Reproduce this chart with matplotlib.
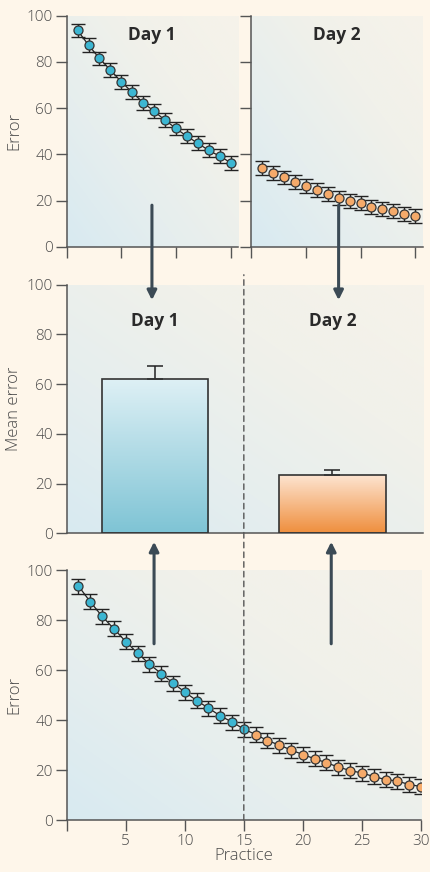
"""Error across practice: day 1 vs day 2 with mean error bars."""
import matplotlib
matplotlib.use("Agg")
import matplotlib.pyplot as plt
import numpy as np
from matplotlib.colors import LinearSegmentedColormap
from matplotlib.patches import ConnectionPatch

plt.rcParams["font.family"] = ["Open Sans", "DejaVu Sans"]

# ---- data -------------------------------------------------------------
trials = list(range(1, 31))
error = [93.6, 87.3, 81.5, 76.5, 71.4, 66.8, 62.4, 58.6, 54.8, 51.2,
         47.8, 44.8, 41.7, 39.2, 36.4, 34.2, 31.8, 30.0, 28.0, 26.2,
         24.5, 22.9, 21.2, 19.8, 18.8, 17.4, 16.2, 15.6, 14.2, 13.4]
error_sd = [3.0] * 30
day_labels = ["Day 1", "Day 2"]
mean_error = [62.2, 23.5]
mean_error_up = [5.1, 1.8]

BG = "#fef6ea"
INK = "#4a4a4a"
ARROW = "#3b4a55"
DAY1_C = "#3cb6d2"
DAY2_C = "#f5aa6a"

bg_cmap = LinearSegmentedColormap.from_list(
    "bg", ["#d8eaf1", "#e6eeee", "#f1f1ea", "#f6f3ea"])
bar_cmaps = [
    LinearSegmentedColormap.from_list("d1", ["#7fc4d5", "#def0f5"]),
    LinearSegmentedColormap.from_list("d2", ["#ef8f3e", "#fde5d2"]),
]

fig = plt.figure(figsize=(4.3, 8.72), dpi=100, facecolor=BG)

ax_d1 = fig.add_axes([0.155, 0.717, 0.398, 0.265])
ax_d2 = fig.add_axes([0.5845, 0.717, 0.3986, 0.265])
ax_mid = fig.add_axes([0.155, 0.3884, 0.828, 0.2851])
ax_all = fig.add_axes([0.155, 0.0596, 0.824, 0.2867])

grad = np.add.outer(np.linspace(0, 1, 200), np.linspace(0, 1, 200)) / 2


def style(ax, xlim, xticks, xlabels=None, ylabels=True):
    ax.set_facecolor("none")
    ax.imshow(grad, cmap=bg_cmap, extent=(0, 1, 0, 1), origin="lower",
              transform=ax.transAxes, aspect="auto", zorder=0,
              interpolation="bicubic")
    ax.set_xlim(*xlim)
    ax.set_ylim(0, 100)
    for s in ("top", "right"):
        ax.spines[s].set_visible(False)
    for s in ("left", "bottom"):
        ax.spines[s].set_color("#555555")
        ax.spines[s].set_linewidth(1.1)
    ax.set_yticks([0, 20, 40, 60, 80, 100])
    if not ylabels:
        ax.set_yticklabels([])
    ax.set_xticks(xticks)
    ax.set_xticklabels(xlabels if xlabels else [])
    ax.tick_params(direction="out", length=8, width=1.0, color="#555555",
                   labelsize=11, labelcolor=INK, pad=2)
    for t in ax.get_xticklabels() + ax.get_yticklabels():
        t.set_fontweight("light")


def curve(ax, x, y, yerr, color):
    ax.errorbar(x, y, yerr=yerr, fmt="none", ecolor="#222222", elinewidth=1.0,
                capsize=5, capthick=1.0, zorder=3)
    ax.plot(x, y, "o", color=color, markersize=6.5, markeredgecolor="#333333",
            markeredgewidth=0.9, zorder=4)


def day_text(ax, x, y, s, transform=None):
    ax.text(x, y, s, transform=transform or ax.transData, ha="center",
            va="center", fontsize=12.5, fontweight="bold", color="#2a2a2a")


# ---- top: separate days ------------------------------------------------
style(ax_d1, (0, 15.65), [0, 5, 10, 15])
ax_d1.plot(trials[:15], error[:15], color="#222222", lw=0.9, zorder=2)
curve(ax_d1, trials[:15], error[:15], error_sd[:15], DAY1_C)
ax_d1.set_ylabel("Error", fontsize=12, color=INK, labelpad=3, fontweight="light")
day_text(ax_d1, 0.5, 0.915, day_labels[0], ax_d1.transAxes)

style(ax_d2, (15, 30.7), [15, 20, 25, 30], ylabels=False)
curve(ax_d2, trials[15:], error[15:], error_sd[15:], DAY2_C)
day_text(ax_d2, 0.5, 0.915, day_labels[1], ax_d2.transAxes)

# ---- middle: mean error ------------------------------------------------
style(ax_mid, (0, 30.14), [])
ax_mid.tick_params(axis="x", length=0)
bar_x = [7.5, 22.5]
bars = ax_mid.bar(bar_x, mean_error, width=9, color="none",
                  edgecolor="#333333", linewidth=1.2, zorder=3)
for b, cm in zip(bars, bar_cmaps):
    x0, w, h = b.get_x(), b.get_width(), b.get_height()
    im = ax_mid.imshow(np.linspace(0, 1, 100).reshape(-1, 1), cmap=cm,
                       extent=(x0, x0 + w, 0, h), origin="lower",
                       aspect="auto", zorder=2)
    im.set_clip_path(b)
ax_mid.errorbar(bar_x, mean_error, yerr=[[0, 0], mean_error_up], fmt="none",
                ecolor="#222222", elinewidth=1.1, capsize=6, capthick=1.1, zorder=2)
for x, lab in zip(bar_x, day_labels):
    day_text(ax_mid, x, 85.5, lab)
ax_mid.set_ylabel("Mean error", fontsize=12, color=INK, labelpad=3, fontweight="light")
ax_mid.set_xlim(0, 30.14)

# ---- bottom: whole practice ---------------------------------------------
style(ax_all, (0, 30), [0, 5, 10, 15, 20, 25, 30],
      ["", "5", "10", "15", "20", "25", "30"])
for t in ax_all.get_xticklabels():
    t.set_fontweight("light")
ax_all.plot(trials, error, color="#222222", lw=0.9, zorder=2)
curve(ax_all, trials[:15], error[:15], error_sd[:15], DAY1_C)
curve(ax_all, trials[15:], error[15:], error_sd[15:], DAY2_C)
ax_all.set_ylabel("Error", fontsize=12, color=INK, labelpad=3, fontweight="light")
ax_all.set_xlabel("Practice", fontsize=12, color=INK, labelpad=-1, fontweight="light")

# ---- connectors ----------------------------------------------------------
fig.add_artist(ConnectionPatch((15, 0), (15, 104), coordsA=ax_all.transData,
                               coordsB=ax_mid.transData, color="#555555",
                               lw=1.0, linestyle=(0, (4, 3)), zorder=1))

arrow_kw = dict(arrowstyle="-|>", color=ARROW, lw=2.2, mutation_scale=14,
                shrinkA=0, shrinkB=0, zorder=6)
# top panels -> bar chart (x positions chosen so the arrows are vertical)
for ax_src, x_src, x_dst in [(ax_d1, 7.8, 7.22), (ax_d2, 23.0, 23.02)]:
    fig.add_artist(ConnectionPatch((x_src, 18), (x_dst, 93.8),
                                   coordsA=ax_src.transData,
                                   coordsB=ax_mid.transData, **arrow_kw))
# whole practice -> bar chart
for x in [7.4, 22.4]:
    fig.add_artist(ConnectionPatch((x, 70.5), (x, -3.4),
                                   coordsA=ax_all.transData,
                                   coordsB=ax_mid.transData, **arrow_kw))

fig.savefig("out.png", dpi=100, facecolor=BG)
